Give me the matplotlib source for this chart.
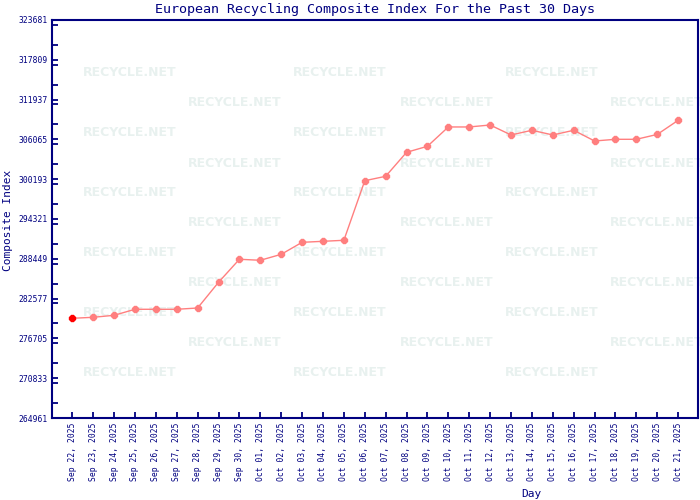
import matplotlib
matplotlib.use("Agg")
import matplotlib.pyplot as plt
from matplotlib.ticker import MultipleLocator

# dates shown on the x axis
days = ["Sep 22, 2025", "Sep 23, 2025", "Sep 24, 2025", "Sep 25, 2025", "Sep 26, 2025",
        "Sep 27, 2025", "Sep 28, 2025", "Sep 29, 2025", "Sep 30, 2025", "Oct 01, 2025",
        "Oct 02, 2025", "Oct 03, 2025", "Oct 04, 2025", "Oct 05, 2025", "Oct 06, 2025",
        "Oct 07, 2025", "Oct 08, 2025", "Oct 09, 2025", "Oct 10, 2025", "Oct 11, 2025",
        "Oct 12, 2025", "Oct 13, 2025", "Oct 14, 2025", "Oct 15, 2025", "Oct 16, 2025",
        "Oct 17, 2025", "Oct 18, 2025", "Oct 19, 2025", "Oct 20, 2025", "Oct 21, 2025"]

# composite index values
index_values = [279670, 279820, 280110, 281000, 281000, 281000, 281190, 284980, 288380, 288230,
                289110, 290880, 291030, 291180, 299970, 300620, 304160, 305050, 307900, 307900,
                308190, 306720, 307410, 306720, 307410, 305830, 306080, 306080, 306800, 308880]

y_min = 264961
y_max = 323681
y_step = 5872

NAVY = "#000080"
LINE = "#ff7f7f"
MONO = "DejaVu Sans Mono"

fig = plt.figure(figsize=(7, 5), dpi=100)
ax = fig.add_axes([52 / 700, 82 / 500, 646 / 700, 398 / 500])
ax.set_zorder(1)
ax.set_facecolor("none")

x = list(range(len(days)))

# watermark behind the plot
for r in range(11):
    ypix = 73 + 30 * r
    if r % 2 == 0:
        xs = [130, 340, 552]
    else:
        xs = [235, 447, 657]
    for xp in xs:
        fig.text(xp / 700, 1 - ypix / 500, "RECYCLE.NET", color="#e8f1ef",
                 fontsize=9, fontweight="bold", ha="center", va="center",
                 family="DejaVu Sans", zorder=0)

ax.plot(x, index_values, color=LINE, lw=1, zorder=3)
ax.plot(x[1:], index_values[1:], ls="none", marker="8", ms=5, color=LINE, zorder=4)
ax.plot(x[:1], index_values[:1], ls="none", marker="8", ms=5, color="#ff0000", zorder=5)

ax.set_xlim(-0.97, 29.95)
ax.set_ylim(y_min, y_max)

ax.set_xticks(x)
ax.set_xticklabels(days, rotation=90, family=MONO, fontsize=5.8, color=NAVY)
yt = [y_min + i * y_step for i in range(11)]
ax.set_yticks(yt)
ax.set_yticklabels([str(v) for v in yt], family=MONO, fontsize=5.8, color=NAVY)
ax.yaxis.set_minor_locator(MultipleLocator(y_step / 2))

ax.tick_params(axis="both", which="both", direction="in", length=4, width=1.3, color=NAVY, pad=3)
for s in ax.spines.values():
    s.set_color(NAVY)
    s.set_linewidth(1.5)

fig.text(375 / 700, 1 - 9 / 500, "European Recycling Composite Index For the Past 30 Days",
         ha="center", va="center", family=MONO, fontsize=9.6, color=NAVY)
fig.text(8 / 700, 1 - 220 / 500, "Composite Index", rotation=90, ha="center", va="center",
         family=MONO, fontsize=8, color=NAVY)
fig.text(531 / 700, 1 - 494 / 500, "Day", ha="center", va="center",
         family=MONO, fontsize=8, color=NAVY)

fig.savefig("out.png", dpi=100)
